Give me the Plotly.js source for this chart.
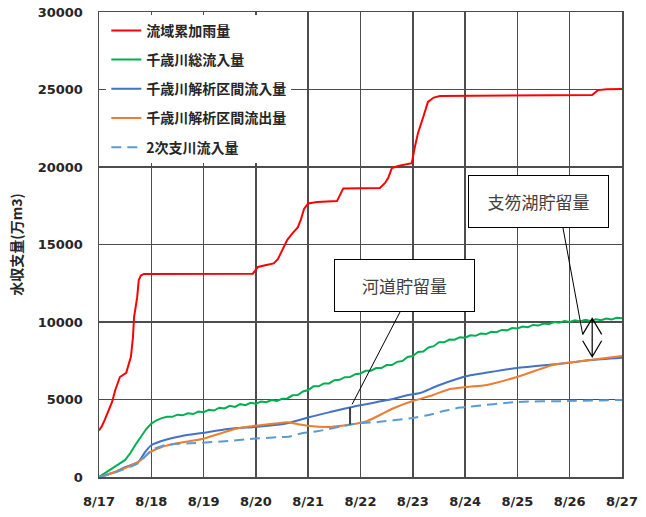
<!DOCTYPE html>
<html>
<head>
<meta charset="utf-8">
<script src="https://cdn.plot.ly/plotly-3.0.1.min.js"></script>
<style>
  html, body { margin: 0; padding: 0; background: #fff; }
  #chart { width: 646px; height: 517px; }
</style>
</head>
<body>
<div id="chart"></div>
<script>
// Elapsed time in days from 8/17 00:00, with the matching cumulative volumes (万m3)
const dateLabels = ["8/17", "8/18", "8/19", "8/20", "8/21", "8/22", "8/23", "8/24", "8/25", "8/26", "8/27"];
const dateTicks = [0, 1, 2, 3, 4, 5, 6, 7, 8, 9, 10];

const seriesNames = ["流域累加雨量", "千歳川総流入量", "千歳川解析区間流入量", "千歳川解析区間流出量", "2次支川流入量"];

// 流域累加雨量
const rainDays = [0, 0.05, 0.11, 0.19, 0.25, 0.31, 0.40, 0.52, 0.57, 0.61, 0.65, 0.67, 0.73, 0.76, 0.80, 0.86,
  2.94, 3.04, 3.20, 3.34, 3.42, 3.52, 3.60, 3.69, 3.80, 3.86, 3.92, 4.00, 4.17, 4.55, 4.61, 4.67,
  5.37, 5.47, 5.53, 5.60, 5.72, 5.98, 6.04, 6.10, 6.20, 6.29, 6.40, 6.52, 9.43, 9.54, 9.71, 10.0];
const rainVals = [3000, 3250, 3680, 4320, 4840, 5600, 6450, 6720, 7350, 7750, 9030, 10300, 11600, 12700, 13000, 13100,
  13120, 13550, 13680, 13780, 14050, 14800, 15300, 15680, 16100, 16600, 17300, 17650, 17740, 17800, 18200, 18620,
  18640, 18970, 19300, 19930, 20060, 20250, 21300, 22200, 23230, 24200, 24480, 24580, 24640, 24960, 25020, 25030];

// 千歳川総流入量 (0.1 day steps)
const totalInDays = [0, 0.1, 0.2, 0.3, 0.4, 0.5, 0.6, 0.7, 0.8, 0.9, 1.0, 1.1, 1.2, 1.3, 1.4, 1.5, 1.6, 1.7, 1.8, 1.9,
  2.0, 2.1, 2.2, 2.3, 2.4, 2.5, 2.6, 2.7, 2.8, 2.9, 3.0, 3.1, 3.2, 3.3, 3.4, 3.5, 3.6, 3.7, 3.8, 3.9,
  4.0, 4.1, 4.2, 4.3, 4.4, 4.5, 4.6, 4.7, 4.8, 4.9, 5.0, 5.1, 5.2, 5.3, 5.4, 5.5, 5.6, 5.7, 5.8, 5.9,
  6.0, 6.1, 6.2, 6.3, 6.4, 6.5, 6.6, 6.7, 6.8, 6.9, 7.0, 7.1, 7.2, 7.3, 7.4, 7.5, 7.6, 7.7, 7.8, 7.9,
  8.0, 8.1, 8.2, 8.3, 8.4, 8.5, 8.6, 8.7, 8.8, 8.9, 9.0, 9.1, 9.2, 9.3, 9.4, 9.5, 9.6, 9.7, 9.8, 9.9, 10.0];
const totalInVals = [0, 230, 470, 690, 880, 1100, 1550, 2100, 2600, 3080, 3450, 3660, 3800, 3890, 3880, 4020, 3980, 4110, 4060, 4220,
  4180, 4330, 4290, 4470, 4420, 4590, 4520, 4700, 4630, 4790, 4730, 4870, 4820, 4960, 4910, 5050, 5070, 5270, 5290, 5520,
  5610, 5850, 5850, 6040, 6040, 6250, 6270, 6440, 6450, 6630, 6680, 6850, 6860, 7030, 7030, 7220, 7220, 7430, 7480, 7740,
  7810, 8060, 8100, 8360, 8440, 8690, 8690, 8870, 8860, 9020, 8990, 9140, 9110, 9260, 9220, 9370, 9340, 9490, 9460, 9610,
  9580, 9710, 9670, 9810, 9770, 9900, 9860, 10000, 9960, 10070, 10000, 10110, 10040, 10150, 10070, 10180, 10110, 10220, 10170, 10270, 10240];

// 千歳川解析区間流入量
const sectionInDays = [0, 0.31, 0.5, 0.75, 0.88, 1.0, 1.26, 1.59, 1.97, 2.47, 2.98, 3.37, 3.65, 4.03, 4.42, 4.84,
  5.32, 5.62, 5.91, 6.14, 6.46, 6.9, 7.04, 7.99, 8.95, 9.39, 10.0];
const sectionInVals = [0, 320, 640, 970, 1610, 2050, 2390, 2650, 2840, 3100, 3230, 3350, 3500, 3870, 4190, 4520,
  4840, 5030, 5290, 5420, 5870, 6390, 6520, 7030, 7350, 7550, 7700];

// 千歳川解析区間流出量
const sectionOutDays = [0, 0.31, 0.75, 0.98, 1.2, 1.51, 1.97, 2.35, 2.6, 2.98, 3.37, 3.6, 3.79, 4.03, 4.42, 4.8,
  5.12, 5.37, 5.62, 6.0, 6.39, 6.71, 7.0, 7.42, 7.99, 8.68, 9.39, 10.0];
const sectionOutVals = [0, 320, 970, 1610, 1940, 2190, 2450, 2840, 3100, 3300, 3450, 3530, 3420, 3290, 3230, 3380,
  3600, 4000, 4420, 4900, 5290, 5680, 5800, 5940, 6450, 7230, 7550, 7810];

// 2次支川流入量
const tributaryDays = [0, 0.3, 0.75, 1.01, 1.26, 1.84, 2.47, 3.0, 3.4, 3.65, 3.9, 4.17, 4.67, 4.99, 5.32, 5.93,
  6.39, 6.52, 6.9, 7.04, 7.99, 8.95, 10.0];
const tributaryVals = [0, 280, 900, 1740, 2060, 2190, 2320, 2480, 2560, 2620, 2840, 2950, 3290, 3480, 3550, 3780,
  4060, 4190, 4480, 4520, 4840, 4900, 4970];

// Callout texts and where their brackets sit (day)
const calloutChannel = "河道貯留量";
const calloutLake = "支笏湖貯留量";
const channelMarkDay = 4.8;
const lakeMarkDay = 9.43;

// Plot geometry
const W = 646, H = 517;
const M = { l: 99, r: 24, t: 12, b: 40 };
const plotW = W - M.l - M.r, plotH = H - M.t - M.b;
const xRange = [0, 10], yRange = [0, 30000];
const dayPerPx = (xRange[1] - xRange[0]) / plotW;
const valPerPx = (yRange[1] - yRange[0]) / plotH;

function interp(xs, ys, x) {
  for (let i = 1; i < xs.length; i++) {
    if (x <= xs[i]) {
      const t = (x - xs[i - 1]) / (xs[i] - xs[i - 1]);
      return ys[i - 1] + t * (ys[i] - ys[i - 1]);
    }
  }
  return ys[ys.length - 1];
}

const jpFont = "Noto Sans CJK JP, sans-serif";
const numFont = "DejaVu Sans, sans-serif";

function line(name, xs, ys, color, opts) {
  return Object.assign({
    type: "scatter", mode: "lines", name: name, x: xs, y: ys,
    legendgroup: name, hoverinfo: "skip",
    line: { color: color, width: 2 }
  }, opts || {});
}

const traces = [
  line(seriesNames[0], rainDays, rainVals, "#FF0000"),
  line(seriesNames[1], totalInDays, totalInVals, "#00B050"),
  line(seriesNames[2], sectionInDays, sectionInVals, "#4472C4", { line: { color: "#4472C4", width: 2, shape: "spline", smoothing: 0.6 } }),
  line(seriesNames[3], sectionOutDays, sectionOutVals, "#ED7D31", { line: { color: "#ED7D31", width: 2, shape: "spline", smoothing: 0.6 } }),
  line(seriesNames[4], tributaryDays, tributaryVals, "#5B9BD5", { line: { color: "#5B9BD5", width: 2, dash: "10px,6px", shape: "spline", smoothing: 0.6 } })
];

// 河道貯留量: bracket between section inflow and outflow
const chTop = interp(sectionInDays, sectionInVals, channelMarkDay);
const chBot = interp(sectionOutDays, sectionOutVals, channelMarkDay);
// 支笏湖貯留量: double arrow between total inflow and section outflow
const lkTop = interp(totalInDays, totalInVals, lakeMarkDay) + 2 * valPerPx;
const lkBot = interp(sectionOutDays, sectionOutVals, lakeMarkDay) + 3 * valPerPx;
const headDx = 9.5 * dayPerPx, headDy = 16 * valPerPx;

const boxW = 141, boxH = 53;
const box1 = { cx: M.l + 305.5, cy: 285.5 };
const box2 = { cx: M.l + 439.5, cy: 201.5 };
function pxToDay(px) { return (px - M.l) * dayPerPx; }
function pyToVal(py) { return (H - M.b - py) * valPerPx; }

const shapes = [
  { type: "line", xref: "x", yref: "y",
    x0: pxToDay(box1.cx - 4.5), y0: pyToVal(box1.cy + boxH / 2),
    x1: channelMarkDay + 2 * dayPerPx, y1: chTop + 3 * valPerPx,
    line: { color: "#000", width: 1 } },
  { type: "line", xref: "x", yref: "y",
    x0: channelMarkDay, y0: chTop, x1: channelMarkDay, y1: chBot,
    line: { color: "#404040", width: 2 } },
  { type: "line", xref: "x", yref: "y",
    x0: pxToDay(box2.cx + 24.5), y0: pyToVal(box2.cy + boxH / 2),
    x1: lakeMarkDay - headDx, y1: lkTop - headDy,
    line: { color: "#000", width: 1 } },
  { type: "path", xref: "x", yref: "y",
    path: "M" + (lakeMarkDay - headDx) + "," + (lkTop - headDy) +
          " L" + lakeMarkDay + "," + lkTop +
          " L" + (lakeMarkDay + headDx) + "," + (lkTop - headDy) +
          " M" + lakeMarkDay + "," + lkTop +
          " L" + lakeMarkDay + "," + lkBot +
          " M" + (lakeMarkDay - headDx) + "," + (lkBot + headDy) +
          " L" + lakeMarkDay + "," + lkBot +
          " L" + (lakeMarkDay + headDx) + "," + (lkBot + headDy),
    line: { color: "#000", width: 1.2 } }
];

function calloutBox(text, b) {
  return {
    xref: "x", yref: "y", x: pxToDay(b.cx), y: pyToVal(b.cy),
    xanchor: "center", yanchor: "middle",
    text: text, showarrow: false,
    width: boxW - 4, height: boxH - 4,
    bgcolor: "#ffffff", bordercolor: "#000000", borderwidth: 1, borderpad: 1,
    font: { family: jpFont, size: 17, color: "#404040" }
  };
}

const layout = {
  width: W, height: H,
  margin: M,
  paper_bgcolor: "#ffffff", plot_bgcolor: "#ffffff",
  font: { family: numFont, color: "#262626" },
  showlegend: true,
  legend: {
    x: 0.014, y: 0.994, xanchor: "left", yanchor: "top",
    bgcolor: "#ffffff", borderwidth: 0,
    tracegroupgap: 8,
    font: { family: jpFont, size: 14, weight: "bold", color: "#262626" }
  },
  xaxis: {
    range: xRange, tickmode: "array", tickvals: dateTicks, ticktext: dateLabels,
    showgrid: true, gridcolor: "#4d4d4d", gridwidth: 1.5,
    showline: true, linecolor: "#4d4d4d", linewidth: 1.5, mirror: true,
    zeroline: false, ticks: "", ticklabelstandoff: 12,
    tickfont: { family: numFont, size: 13, weight: "bold", color: "#262626" }
  },
  yaxis: {
    range: yRange, dtick: 5000, tick0: 0, tickformat: "d",
    showgrid: true, gridcolor: "#4d4d4d", gridwidth: 1.5,
    showline: true, linecolor: "#4d4d4d", linewidth: 1.5, mirror: true,
    zeroline: false, ticks: "", ticklabelstandoff: 12,
    tickfont: { family: numFont, size: 13, weight: "bold", color: "#262626" },
    title: { text: "水収支量(万m3)", standoff: 12,
      font: { family: jpFont, size: 14, weight: "bold", color: "#262626" } }
  },
  shapes: shapes,
  annotations: [calloutBox(calloutChannel, box1), calloutBox(calloutLake, box2)]
};

Plotly.newPlot("chart", traces, layout, { displayModeBar: false, staticPlot: true });
</script>
</body>
</html>
